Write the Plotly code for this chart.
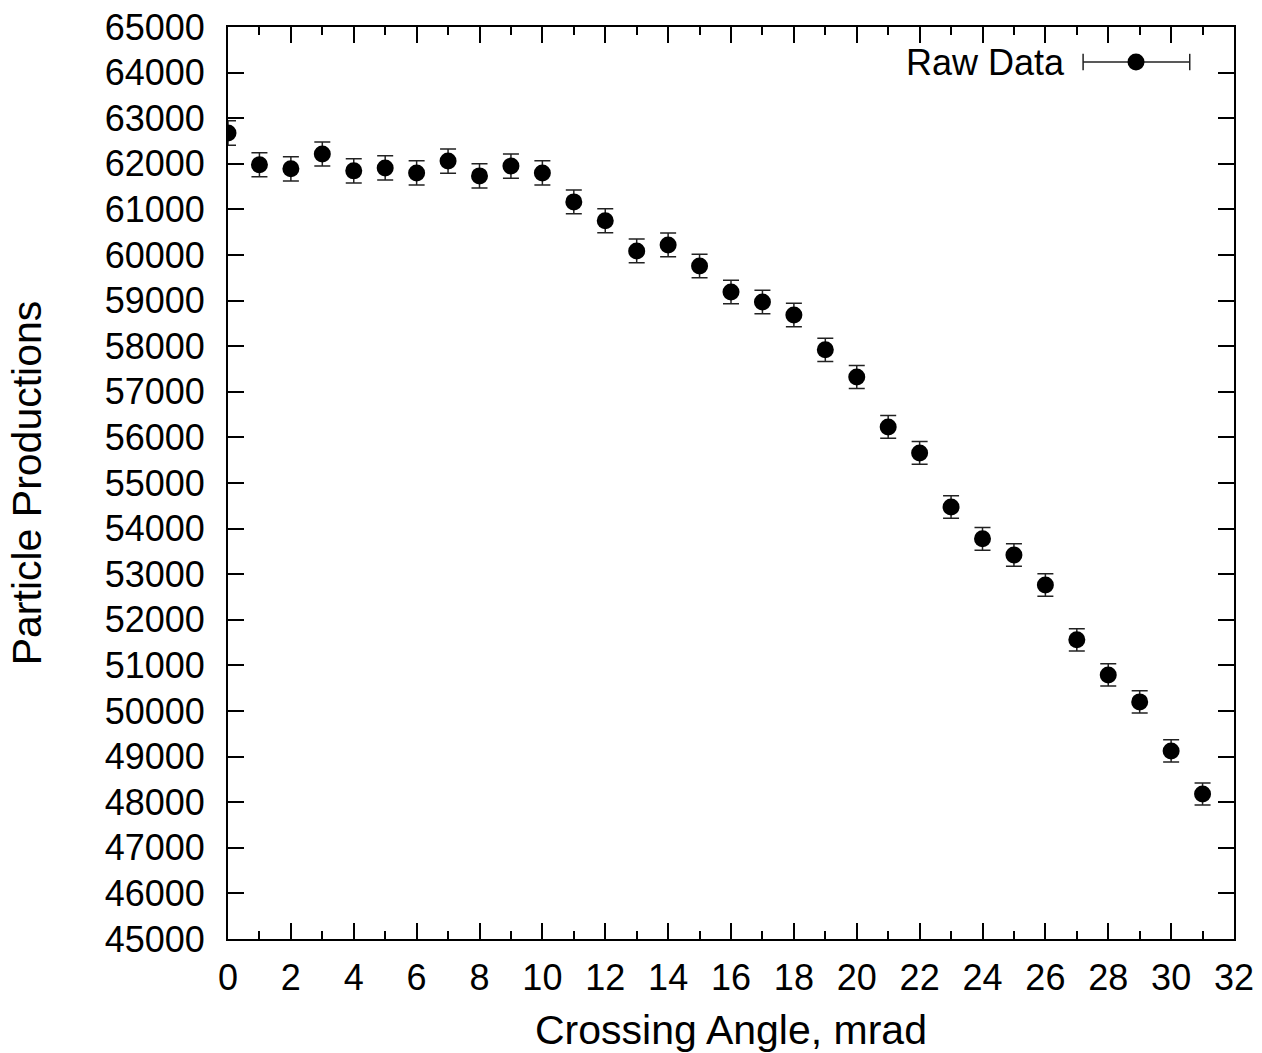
import plotly.graph_objects as go

angles = list(range(0, 32))
productions = [62675, 61980, 61890, 62215, 61845, 61910, 61800, 62060, 61735, 61950,
               61800, 61165, 60750, 60090, 60220, 59760, 59190, 58970, 58685, 57920,
               57325, 56230, 55660, 54475, 53775, 53420, 52765, 51560, 50790, 50200,
               49125, 48180]
errors = [270, 265, 265, 265, 265, 265, 265, 265, 265, 265,
          265, 262, 262, 260, 260, 258, 258, 256, 256, 254,
          252, 250, 250, 248, 248, 246, 246, 244, 244, 242,
          242, 240]
x_ticks = list(range(0, 33, 2))
y_ticks = list(range(45000, 65001, 1000))

FONT = "Liberation Sans, Arial, Helvetica, sans-serif"

fig = go.Figure()
fig.add_trace(go.Scatter(
    x=angles, y=productions, mode="markers",
    marker=dict(color="black", size=17),
    error_y=dict(type="data", array=errors, visible=True, color="#222222",
                 thickness=1.5, width=8),
    showlegend=False, name="Raw Data",
))

# custom legend (text + sample with error bar)
lx0, lx1, lxc, ly = 0.850, 0.956, 0.9026, 0.9616
fig.add_annotation(x=0.834, y=ly, xref="paper", yref="paper", text="Raw Data",
                   showarrow=False, xanchor="right", yanchor="middle",
                   font=dict(family=FONT, size=36, color="black"))
fig.add_shape(type="line", xref="paper", yref="paper", x0=lx0, x1=lx1, y0=ly, y1=ly,
              line=dict(color="#222222", width=1.5))
for xx in (lx0, lx1):
    fig.add_shape(type="line", xref="paper", yref="paper", x0=xx, x1=xx,
                  y0=ly - 0.009, y1=ly + 0.009, line=dict(color="#222222", width=1.5))
fig.add_shape(type="circle", xref="paper", yref="paper", xsizemode="pixel", ysizemode="pixel",
              xanchor=lxc, yanchor=ly, x0=-8.5, x1=8.5, y0=-8.5, y1=8.5,
              fillcolor="black", line=dict(color="black", width=0))

fig.update_layout(
    width=1262, height=1053,
    margin=dict(l=228, r=28, t=27, b=114),
    paper_bgcolor="white", plot_bgcolor="white",
    font=dict(family=FONT, color="black"),
    xaxis=dict(
        range=[0, 32], tickmode="array", tickvals=x_ticks, automargin=False,
        ticks="inside", ticklen=16, tickwidth=2, tickcolor="black",
        showline=True, linewidth=2, linecolor="black", mirror="ticks",
        showgrid=False, zeroline=False,
        tickfont=dict(family=FONT, size=36, color="black"),
        ticklabelstandoff=6,
        minor=dict(tickmode="linear", tick0=1, dtick=2, ticks="inside", ticklen=8,
                   tickwidth=2, tickcolor="black", showgrid=False),
        title=dict(text="Crossing Angle, mrad", font=dict(family=FONT, size=41, color="black"),
                   standoff=18),
    ),
    yaxis=dict(
        range=[45000, 65000], tickmode="array", tickvals=y_ticks, automargin=False,
        ticktext=[str(v) for v in y_ticks],
        ticks="inside", ticklen=16, tickwidth=2, tickcolor="black",
        showline=True, linewidth=2, linecolor="black", mirror="ticks",
        showgrid=False, zeroline=False,
        tickfont=dict(family=FONT, size=36, color="black"),
        ticklabelstandoff=14,
        title=dict(text="Particle Productions", font=dict(family=FONT, size=41, color="black"),
                   standoff=50),
    ),
)

fig.write_html("out.html")
